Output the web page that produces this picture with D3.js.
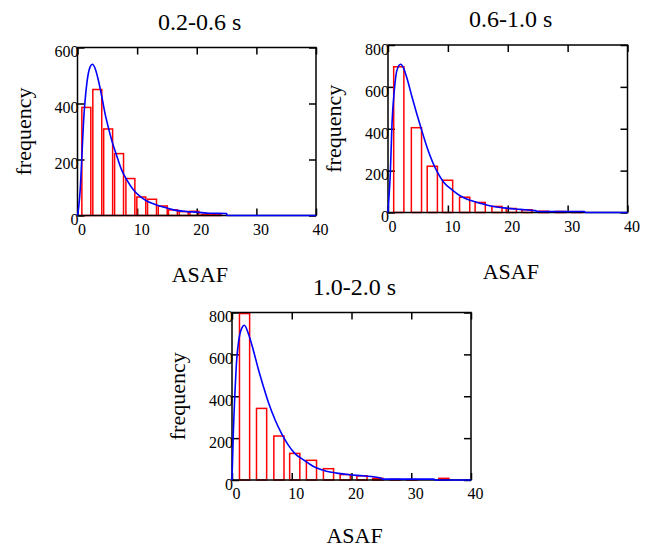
<!DOCTYPE html>
<html>
<head>
<meta charset="utf-8">
<script src="https://cdn.jsdelivr.net/npm/d3@7"></script>
<style>
  body { margin: 0; background: #fff; }
  svg { display: block; }
</style>
</head>
<body>
<svg width="650" height="548"></svg>
<script>
// ---- data ----
var titles = ["0.2-0.6 s", "0.6-1.0 s", "1.0-2.0 s"];
var xTicks = [0, 10, 20, 30, 40];
var yTicks600 = [0, 200, 400, 600];
var yTicks800 = [0, 200, 400, 600, 800];

// histogram bars: bin mid points (ASAF) and counts
var binMid1 = [1.48, 3.32, 5.14, 6.97, 8.87, 10.7, 12.5, 14.3, 16.0, 17.8, 19.6, 21.5, 23.3];
var count1  = [386, 450, 309, 221, 132, 66, 58, 34, 20, 14, 15, 4, 3];
var binW1 = 1.5;

var binMid2 = [1.8, 4.75, 7.4, 9.95, 12.8, 15.4, 18.2, 20.6, 23.2, 26.0, 28.8, 31.5];
var count2  = [696, 405, 221, 154, 73, 48, 29, 19, 13, 6, 5, 4];
var binW2 = 1.7;

var binMid3 = [2.1, 4.95, 7.85, 10.5, 13.3, 16.15, 18.95, 21.75, 24.4, 27.3, 30.1, 35.45];
var count3  = [795, 342, 210, 127, 94, 54, 26, 20, 8, 3, 2, 8];
var binW3 = 1.7;

// fitted curves
var fitX1 = [0, 0.2, 0.45, 0.73, 1.0, 1.56, 2.12, 2.5, 2.96, 3.5, 4.08, 4.64, 5.2, 5.75, 6.6, 7.4, 8.27, 9.4, 10.5, 11.6, 12.7, 14.4, 16.1, 18.3, 20.0, 22.2, 25.0, 25.1, 40];
var fitY1 = [0, 30, 91, 210, 329, 471, 531, 540, 525, 483, 424, 362, 312, 268, 212, 163, 127, 91, 68, 52, 42, 30, 20, 14, 12, 8, 7, 0, 0];

var fitX2 = [0, 0.2, 0.39, 0.67, 1.06, 1.5, 2.1, 2.6, 3.17, 4.0, 5.5, 6.6, 8.2, 9.3, 10.7, 12.1, 13.7, 16.0, 17.4, 19.3, 22.1, 24.6, 25.0, 32.8, 33.0, 40];
var fitY2 = [0, 90, 188, 426, 585, 680, 708, 690, 641, 553, 405, 305, 195, 145, 108, 79, 58, 40, 30, 22, 15, 9, 5, 5, 0, 0];

var fitX3 = [0, 0.22, 0.5, 0.78, 1.06, 1.6, 2.06, 2.73, 3.57, 4.4, 5.24, 6.07, 7.2, 8.3, 9.4, 10.5, 12.2, 13.1, 14.2, 15.8, 17.5, 19.7, 21.9, 24.9, 25.2, 33.8, 34.0, 40];
var fitY3 = [0, 222, 420, 572, 652, 723, 739, 700, 620, 530, 448, 372, 288, 222, 168, 127, 92, 74, 57, 42, 33, 25, 20, 10, 4, 4, 0, 0];

// ---- layout ----
var FONT = "'Liberation Serif', 'Times New Roman', 'DejaVu Serif', serif";
var panels = [
    { left: 77.5, top: 47.5, w: 238.5, h: 168, yMax: 600, yTicks: yTicks600,
      title: titles[0], mids: binMid1, counts: count1, bw: binW1, fx: fitX1, fy: fitY1 },
    { left: 388, top: 45, w: 239.5, h: 167.5, yMax: 800, yTicks: yTicks800,
      title: titles[1], mids: binMid2, counts: count2, bw: binW2, fx: fitX2, fy: fitY2 },
    { left: 232, top: 312.5, w: 239, h: 167.5, yMax: 800, yTicks: yTicks800,
      title: titles[2], mids: binMid3, counts: count3, bw: binW3, fx: fitX3, fy: fitY3 }
];

var svg = d3.select("svg");

panels.forEach(function (p) {
    var g = svg.append("g").attr("transform", "translate(" + p.left + "," + p.top + ")");

    var scX = d3.scaleLinear().domain([0, 40]).range([0, p.w]);
    var scY = d3.scaleLinear().domain([0, p.yMax]).range([p.h, 0]);

    // inward ticks on all four sides, labels only left and bottom
    var axB = g.append("g").attr("transform", "translate(0," + p.h + ")")
        .call(d3.axisBottom(scX).tickValues(xTicks).tickSizeInner(-7).tickSizeOuter(0).tickPadding(8));
    axB.selectAll("text").attr("dx", 4);

    var axL = g.append("g")
        .call(d3.axisLeft(scY).tickValues(p.yTicks).tickSizeInner(-7).tickSizeOuter(0).tickPadding(-1));
    axL.selectAll("text").attr("dy", "0.58em");

    g.append("g")
        .call(d3.axisTop(scX).tickValues(xTicks).tickSizeInner(-7).tickSizeOuter(0).tickFormat(""));
    g.append("g").attr("transform", "translate(" + p.w + ",0)")
        .call(d3.axisRight(scY).tickValues(p.yTicks).tickSizeInner(-7).tickSizeOuter(0).tickFormat(""));

    g.selectAll(".domain").remove();
    g.selectAll(".tick line").attr("stroke", "#000").attr("stroke-width", 1.5);
    g.selectAll(".tick text").attr("font-family", null).attr("font-size", null)
        .style("font-family", FONT).style("font-size", "16px").attr("fill", "#000");

    // histogram bars
    g.append("g").selectAll("rect")
        .data(p.mids).enter().append("rect")
        .attr("x", d => scX(d - p.bw / 2))
        .attr("width", d => scX(d + p.bw / 2) - scX(d - p.bw / 2))
        .attr("y", (d, i) => scY(p.counts[i]))
        .attr("height", (d, i) => scY(0) - scY(p.counts[i]))
        .attr("fill", "none").attr("stroke", "#ff0000").attr("stroke-width", 1.5);

    // frame
    g.append("rect").attr("width", p.w).attr("height", p.h)
        .attr("fill", "none").attr("stroke", "#000").attr("stroke-width", 1.5);

    // fitted curve
    var lineMaker = d3.line()
        .x(d => scX(d[0]))
        .y(d => scY(d[1]))
        .curve(d3.curveMonotoneX);
    g.append("path")
        .attr("d", lineMaker(d3.zip(p.fx, p.fy)))
        .attr("fill", "none").attr("stroke", "#0000ff").attr("stroke-width", 1.6);

    // titles
    var labY = Math.min(p.h + 66, 543 - p.top);
    g.append("text").attr("x", p.w / 2 + 3).attr("y", -18)
        .attr("text-anchor", "middle").style("font-family", FONT).style("font-size", "24px").text(p.title);
    g.append("text").attr("x", p.w / 2 + 3).attr("y", labY)
        .attr("text-anchor", "middle").style("font-family", FONT).style("font-size", "22px").text("ASAF");
    g.append("text")
        .attr("transform", "translate(-47," + (p.h / 2) + ") rotate(-90)")
        .attr("text-anchor", "middle").style("font-family", FONT).style("font-size", "22px").text("frequency");
});
</script>
</body>
</html>
